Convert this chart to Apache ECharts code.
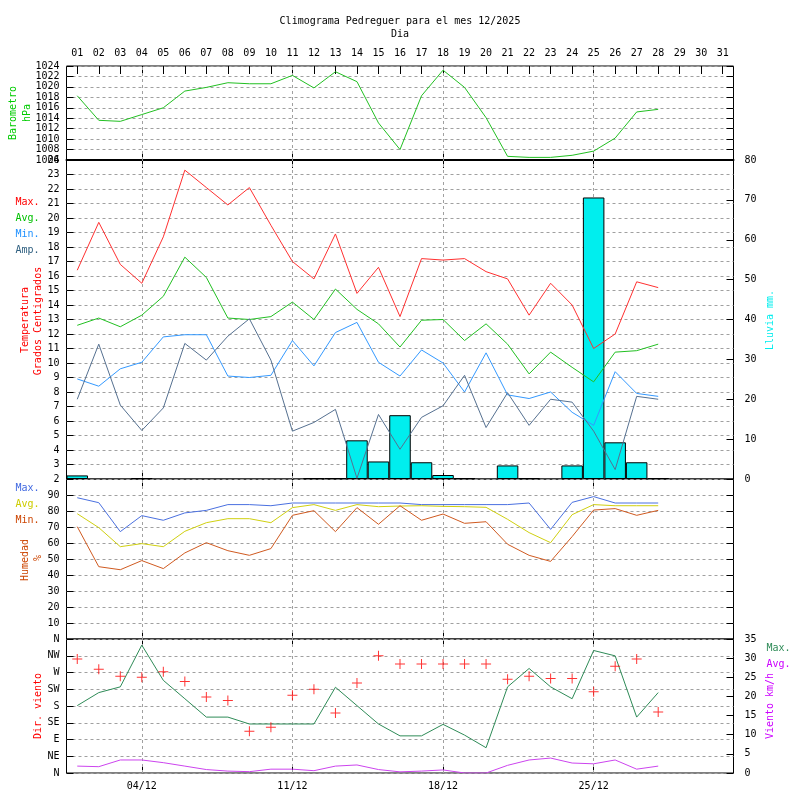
<!DOCTYPE html>
<html><head><meta charset="utf-8">
<script src="https://cdn.jsdelivr.net/npm/echarts@6/dist/echarts.min.js"></script>
<style>html,body{margin:0;padding:0;background:#fff}#c{width:800px;height:800px}</style>
</head><body><div id="c"></div>
<script>
const days = ['01','02','03','04','05','06','07','08','09','10','11','12','13','14','15','16','17','18','19','20','21','22','23','24','25','26','27','28','29','30','31'];
const keyDays = ['04','11','18','25'];
const baro = [1018.3,1013.6,1013.4,1014.7,1016.0,1019.2,1019.9,1020.8,1020.6,1020.6,1022.2,1019.8,1022.9,1021.0,1013.1,1008.0,1018.3,1023.2,1019.9,1014.1,1006.7,1006.5,1006.5,1006.9,1007.7,1010.2,1015.2,1015.7];
const tMax = [16.4,19.7,16.8,15.5,18.7,23.3,22.1,20.9,22.1,19.5,17.0,15.8,18.9,14.8,16.6,13.2,17.2,17.1,17.2,16.3,15.8,13.3,15.5,14.0,11.0,12.0,15.6,15.2];
const tAvg = [12.6,13.1,12.5,13.3,14.6,17.3,15.9,13.1,13.0,13.2,14.2,13.0,15.1,13.7,12.7,11.1,12.95,13.0,11.55,12.7,11.3,9.25,10.75,9.7,8.7,10.75,10.85,11.3];
const tMin = [8.9,8.4,9.6,10.05,11.8,11.95,11.95,9.1,9.0,9.15,11.55,9.8,12.1,12.8,10.05,9.1,10.9,10.0,8.0,10.7,7.8,7.55,8.0,6.6,5.7,9.4,7.9,7.7];
const tAmp = [7.5,11.3,7.1,5.35,6.9,11.35,10.2,11.85,13.05,10.2,5.3,5.9,6.8,2.05,6.45,4.05,6.25,7.05,9.15,5.55,7.95,5.7,7.5,7.3,5.3,2.65,7.7,7.5];
const rain = [0.9,null,null,0.2,null,null,null,null,null,null,null,0.2,0.2,9.7,4.4,16.0,4.2,1.0,0.2,null,3.4,0.2,null,3.4,70.6,9.2,4.2,0.2,null,null,null];
const humMax = [88.3,85.2,67.1,77.1,74.2,78.8,80.4,84,84,83.3,85,85,85,85,85,85,84,84,84,84,84,85,68.5,85.4,89,85,85,85];
const humAvg = [78.3,69.6,57.7,59.6,57.7,67.3,72.7,75.2,75.2,72.7,82.1,84,80.4,84,82.7,83.1,83.3,82.9,82.7,82.3,74.8,66.5,60.2,77.7,84,83.3,83.3,83.3];
const humMin = [70.2,45.2,43.3,49,44,53.8,60.2,55.2,52.3,56.5,77.3,80.2,67.1,82.1,71.7,83.3,74.2,78.1,72.3,73.3,59.2,52.3,48.5,64,80.6,81.5,77.3,80.4];
const windMax = [17.6,21.0,22.5,33.4,24.2,19.4,14.6,14.6,12.8,12.8,12.8,12.8,22.4,17.6,12.8,9.7,9.7,12.7,9.9,6.6,22.5,27.3,22.5,19.4,32.0,30.6,14.6,21.0];
const windAvg = [1.8,1.65,3.4,3.4,2.7,1.8,0.9,0.5,0.35,1.0,1.0,0.6,1.8,2.1,0.9,0.3,0.5,0.8,0,0,2.0,3.4,3.9,2.6,2.4,3.4,1.0,1.8];
const windDir = [306,279,260,257,272,246,204,195,112,123,209,225,161,242,315,293,293,293,293,293,252,260,254,254,218,287,306,164];
const dirLabels = ['N','NE','E','SE','S','SW','W','NW','N'];

const FF = '"DejaVu Sans Mono", monospace';
const FONT = '10px ' + FF;
const GRID_DASH = {type:[3,3], color:'#a0a0a0', width:1};
const isKey = (i, v) => keyDays.indexOf(v) >= 0;

function xAx(gi, pos, opts) {
  opts = opts || {};
  return {
    type:'category', gridIndex:gi, position:pos, data:days, boundaryGap:true,
    axisLine:{show:!!opts.line, onZero:false, lineStyle:{color:'#000', width:opts.line||1}},
    axisTick:{show:true, inside:true, alignWithLabel:true, length:8, interval: opts.allTicks ? 0 : isKey, lineStyle:{color:'#000'}},
    axisLabel: opts.label ? Object.assign({show:true, color:'#000', fontSize:10, fontFamily:FF, margin:8}, opts.label) : {show:false},
    splitLine:{show:false}
  };
}
function yAx(gi, pos, min, max, interval, opts) {
  opts = opts || {};
  return {
    type:'value', gridIndex:gi, position:pos, min, max, interval,
    axisLine:{show:false},
    axisTick:{show:true, inside:true, length:7, lineStyle:{color:'#000'}},
    axisLabel: opts.label === false ? {show:false} : Object.assign({show:true, color:'#000', fontSize:10, fontFamily:FF,
      margin: pos==='left'?7:11, formatter: v => String(v),
      showMinLabel: opts.showMin !== false, showMaxLabel: opts.showMax !== false}, opts.label||{}),
    splitLine: opts.split ? {show:true, lineStyle:GRID_DASH} : {show:false}
  };
}
function vLines(xi, yi) {
  return {type:'line', xAxisIndex:xi, yAxisIndex:yi, data:[], silent:true, z:1,
    markLine:{silent:true, z:1, symbol:['none','none'], label:{show:false}, lineStyle:GRID_DASH, animation:false,
      data: keyDays.map(d => ({xAxis:d}))}};
}
function lineS(xi, yi, data, color, z) {
  return {type:'line', xAxisIndex:xi, yAxisIndex:yi, data, symbol:'none', z:z||4, silent:true,
    lineStyle:{color, width:1}, itemStyle:{color}};
}
function txt(x, y, text, color, rot, align) {
  return {type:'text', x, y, rotation: rot||0, silent:true, z:100,
    style:{text, fill:color, font:FONT, align:align||'center', verticalAlign:'middle', textAlign:align||'center', textVerticalAlign:'middle'}};
}
const R = Math.PI/2;
const plus = 'path://M4.5,0h1v4.5h4.5v1h-4.5v4.5h-1v-4.5h-4.5v-1h4.5z';

const option = {
  animation:false,
  backgroundColor:'#fff',
  grid:[
    {left:66.5, right:66.5, top:66, height:94, show:true, borderColor:'#000', borderWidth:1, backgroundColor:'transparent'},
    {left:66.5, right:66.5, top:160, height:319, show:true, borderColor:'#000', borderWidth:1, backgroundColor:'transparent'},
    {left:66.5, right:66.5, top:479, height:160, show:true, borderColor:'#000', borderWidth:1, backgroundColor:'transparent'},
    {left:66.5, right:66.5, top:639, height:134, show:true, borderColor:'#000', borderWidth:1, backgroundColor:'transparent'}
  ],
  xAxis:[
    xAx(0,'top',{allTicks:true, label:{interval:0}}),
    xAx(0,'bottom',{line:2}),
    xAx(1,'top'),
    xAx(1,'bottom'),
    xAx(2,'top'),
    xAx(2,'bottom'),
    xAx(3,'top'),
    xAx(3,'bottom',{label:{interval:isKey, formatter:v => keyDays.indexOf(v)>=0 ? v+'/12' : ''}})
  ],
  yAxis:[
    yAx(0,'left',1006,1024,2,{split:true}),
    yAx(0,'right',1006,1024,2,{label:false}),
    yAx(1,'left',2,24,1,{split:true}),
    yAx(1,'right',0,80,10,{}),
    yAx(2,'left',0,100,10,{split:true, showMin:false, showMax:false}),
    yAx(2,'right',0,100,10,{label:false}),
    yAx(3,'left',0,360,45,{split:true, label:{formatter:v => dirLabels[Math.round(v/45)]}}),
    yAx(3,'right',0,35,5,{})
  ],
  series:[
    vLines(0,0), vLines(2,2), vLines(4,4), vLines(6,6),
    lineS(0,0,baro,'#22c022'),
    {type:'bar', xAxisIndex:2, yAxisIndex:3, data:rain, barWidth:'100%', barGap:'0%', z:2, silent:true,
      itemStyle:{color:'#00eeee', borderColor:'#000', borderWidth:1}},
    lineS(2,2,tMax,'#ff3030'),
    lineS(2,2,tAvg,'#22c022'),
    lineS(2,2,tMin,'#3399ff'),
    lineS(2,2,tAmp,'#557090'),
    lineS(4,4,humMax,'#4a70e0'),
    lineS(4,4,humAvg,'#d0d010'),
    lineS(4,4,humMin,'#d05a20'),
    lineS(6,7,windMax,'#2e8b57'),
    lineS(6,7,windAvg,'#cc44ee'),
    {type:'scatter', xAxisIndex:6, yAxisIndex:6, data:windDir, symbol:plus, symbolSize:10, z:5, silent:true,
      itemStyle:{color:'#ff0000'}}
  ],
  graphic:[
    txt(400,21,'Climograma Pedreguer para el mes 12/2025','#000'),
    txt(400,34,'Dia','#000'),
    txt(13.5,113,'Barometro','#00cc00',R),
    txt(27.5,113,'hPa','#00cc00',R),
    txt(15.5,202,'Max.','#ff0000',0,'left'),
    txt(15.5,218,'Avg.','#00c000',0,'left'),
    txt(15.5,234,'Min.','#1e90ff',0,'left'),
    txt(15.5,250,'Amp.','#306080',0,'left'),
    txt(25,320,'Temperatura','#ff0000',R),
    txt(38.5,321,'Grados Centigrados','#ff0000',R),
    txt(770,320,'Lluvia mm.','#00eeee',R),
    txt(15.5,488,'Max.','#4169e1',0,'left'),
    txt(15.5,504,'Avg.','#cccc00',0,'left'),
    txt(15.5,520,'Min.','#cc4400',0,'left'),
    txt(25,560,'Humedad','#cc4400',R),
    txt(38.5,558,'%','#cc4400',R),
    txt(38.5,706,'Dir. viento','#ff0000',R),
    txt(766.5,648,'Max.','#2e8b57',0,'left'),
    txt(766.5,664,'Avg.','#cc00ff',0,'left'),
    txt(770,706,'Viento km/h','#cc00ff',R)
  ]
};
const chart = echarts.init(document.getElementById('c'), null, {renderer:'canvas'});
chart.setOption(option);
</script>
</body></html>
